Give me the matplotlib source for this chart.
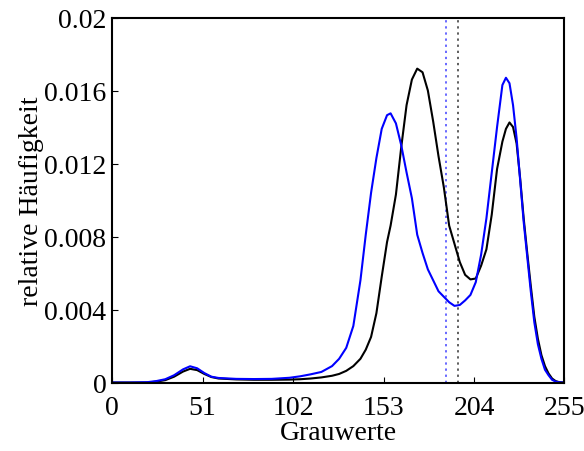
import matplotlib
matplotlib.use("Agg")
import matplotlib.pyplot as plt

grau = [0, 10, 20, 25, 30, 35, 40, 44, 48, 52, 56, 60, 70, 80, 90, 100, 106, 112,
        118, 124, 128, 132, 136, 140, 143, 146, 149, 152, 155, 157, 160, 163, 166,
        169, 172, 175, 178, 181, 184, 187, 190, 193, 196, 199, 202, 205, 208, 211,
        214, 217, 220, 222, 224, 226, 228, 230, 232, 234, 236, 238, 240, 242, 244,
        246, 248, 250, 252, 255]

# relative frequency, black curve
h_schwarz = [0, 0, 0, 0.00005, 0.00013, 0.00032, 0.0006, 0.00075, 0.00068, 0.00047,
             0.0003, 0.00022, 0.00017, 0.00015, 0.00015, 0.00016, 0.00018, 0.00022,
             0.00028, 0.00037, 0.00047, 0.00064, 0.0009, 0.0013, 0.0018, 0.0025,
             0.0038, 0.0058, 0.0077, 0.0086, 0.0103, 0.0129, 0.0152, 0.0166, 0.0172,
             0.0170, 0.0160, 0.0143, 0.0124, 0.0107, 0.0086, 0.0076, 0.0066, 0.0059,
             0.00565, 0.0057, 0.0064, 0.0073, 0.0092, 0.0117, 0.0132, 0.0139, 0.01425,
             0.0140, 0.0131, 0.0112, 0.0090, 0.0071, 0.0053, 0.0036, 0.0024, 0.0015,
             0.0009, 0.0005, 0.00022, 0.00008, 0.00002, 0]

# relative frequency, blue curve
h_blau = [0, 0, 0.00002, 0.00008, 0.00018, 0.0004, 0.00072, 0.00089, 0.00078, 0.00052,
          0.00032, 0.00025, 0.0002, 0.00019, 0.0002, 0.00026, 0.00034, 0.00045,
          0.00058, 0.0009, 0.0013, 0.0019, 0.0031, 0.0056, 0.0081, 0.0104, 0.0123,
          0.0139, 0.01465, 0.01475, 0.0142, 0.0130, 0.01151, 0.0101, 0.0081, 0.0071,
          0.0062, 0.0056, 0.0050, 0.0047, 0.0044, 0.0042, 0.00425, 0.0045, 0.0048,
          0.0055, 0.0070, 0.0090, 0.0115, 0.0140, 0.0163, 0.0167, 0.0164, 0.0152,
          0.0134, 0.0111, 0.0088, 0.0069, 0.0050, 0.0033, 0.0021, 0.0013, 0.0007,
          0.0004, 0.00015, 0.00005, 0.00001, 0]

# thresholds (dotted lines)
schwelle_blau = 188
schwelle_schwarz = 195

xticks = [0, 51, 102, 153, 204, 255]
yticks = [0, 0.004, 0.008, 0.012, 0.016, 0.02]
ylabels = ["0", "0.004", "0.008", "0.012", "0.016", "0.02"]

plt.rcParams['font.family'] = ['Liberation Serif', 'DejaVu Serif']
plt.rcParams['font.size'] = 20

fig = plt.figure(figsize=(5.84, 4.52), dpi=100)
ax = fig.add_axes([0.1918, 0.1515, 0.7748, 0.8075])

ax.axvline(schwelle_blau, color='#4040ff', ls=(0, (1.5, 2.5)), lw=1.1)
ax.axvline(schwelle_schwarz, color='#333333', ls=(0, (1.5, 2.5)), lw=1.1)

ax.plot(grau, h_schwarz, color='black', lw=1.5)
ax.plot(grau, h_blau, color='#0000ff', lw=1.5)

ax.set_xlim(0, 255)
ax.set_ylim(0, 0.02)
ax.set_xticks(xticks)
ax.set_yticks(yticks)
ax.set_yticklabels(ylabels)
ax.tick_params(direction='in', length=4, width=0.8, top=False, right=False)
ax.tick_params(axis='x', pad=9)
ax.tick_params(axis='y', pad=4)

for s in ax.spines.values():
    s.set_linewidth(1.5)

ax.set_xlabel("Grauwerte", labelpad=0)
ax.set_ylabel("relative Häufigkeit", labelpad=0)

fig.savefig("out.png", dpi=100)
